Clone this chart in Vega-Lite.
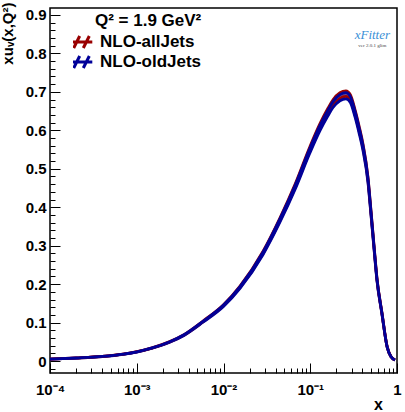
{
  "$schema": "https://vega.github.io/schema/vega-lite/v6.json",
  "width": 347,
  "height": 365,
  "autosize": {"type": "none"},
  "padding": {"left": 50, "top": 8, "right": 8, "bottom": 39},
  "background": "white",
  "config": {"view": {"stroke": "black", "strokeWidth": 1.5}, "font": "Arial"},
  "resolve": {"axis": {"x": "independent", "y": "independent"}},
  "datasets": {
    "pdf": [
      {"x": 0.0001, "band": "NLO-allJets", "lo": 0.00495, "hi": 0.00506},
      {"x": 0.0002, "band": "NLO-allJets", "lo": 0.0079, "hi": 0.0081},
      {"x": 0.0004, "band": "NLO-allJets", "lo": 0.0119, "hi": 0.0121},
      {"x": 0.0007, "band": "NLO-allJets", "lo": 0.0178, "hi": 0.0182},
      {"x": 0.001, "band": "NLO-allJets", "lo": 0.0238, "hi": 0.0243},
      {"x": 0.0015, "band": "NLO-allJets", "lo": 0.0337, "hi": 0.0344},
      {"x": 0.0024, "band": "NLO-allJets", "lo": 0.0495, "hi": 0.0506},
      {"x": 0.0035, "band": "NLO-allJets", "lo": 0.0673, "hi": 0.0687},
      {"x": 0.0058, "band": "NLO-allJets", "lo": 0.102, "hi": 0.1041},
      {"x": 0.01, "band": "NLO-allJets", "lo": 0.1436, "hi": 0.1466},
      {"x": 0.0155, "band": "NLO-allJets", "lo": 0.1911, "hi": 0.1951},
      {"x": 0.0285, "band": "NLO-allJets", "lo": 0.2792, "hi": 0.2851},
      {"x": 0.0447, "band": "NLO-allJets", "lo": 0.3643, "hi": 0.372},
      {"x": 0.0666, "band": "NLO-allJets", "lo": 0.4495, "hi": 0.459},
      {"x": 0.0993, "band": "NLO-allJets", "lo": 0.5465, "hi": 0.5581},
      {"x": 0.129, "band": "NLO-allJets", "lo": 0.6039, "hi": 0.6167},
      {"x": 0.16, "band": "NLO-allJets", "lo": 0.6435, "hi": 0.6572},
      {"x": 0.183, "band": "NLO-allJets", "lo": 0.6653, "hi": 0.6794},
      {"x": 0.22, "band": "NLO-allJets", "lo": 0.6831, "hi": 0.6976},
      {"x": 0.258, "band": "NLO-allJets", "lo": 0.6881, "hi": 0.7026},
      {"x": 0.29, "band": "NLO-allJets", "lo": 0.6782, "hi": 0.6925},
      {"x": 0.328, "band": "NLO-allJets", "lo": 0.6405, "hi": 0.6541},
      {"x": 0.365, "band": "NLO-allJets", "lo": 0.599, "hi": 0.6117},
      {"x": 0.405, "band": "NLO-allJets", "lo": 0.5534, "hi": 0.5651},
      {"x": 0.463, "band": "NLO-allJets", "lo": 0.4683, "hi": 0.4782},
      {"x": 0.5, "band": "NLO-allJets", "lo": 0.3861, "hi": 0.3943},
      {"x": 0.543, "band": "NLO-allJets", "lo": 0.295, "hi": 0.3013},
      {"x": 0.589, "band": "NLO-allJets", "lo": 0.2089, "hi": 0.2133},
      {"x": 0.67, "band": "NLO-allJets", "lo": 0.1238, "hi": 0.1264},
      {"x": 0.77, "band": "NLO-allJets", "lo": 0.0366, "hi": 0.0374},
      {"x": 0.85, "band": "NLO-allJets", "lo": 0.0119, "hi": 0.0121},
      {"x": 0.95, "band": "NLO-allJets", "lo": 0.003, "hi": 0.0031},
      {"x": 0.0001, "band": "NLO-oldJets", "lo": 0.0049, "hi": 0.00502},
      {"x": 0.0002, "band": "NLO-oldJets", "lo": 0.0078, "hi": 0.008},
      {"x": 0.0004, "band": "NLO-oldJets", "lo": 0.0118, "hi": 0.012},
      {"x": 0.0007, "band": "NLO-oldJets", "lo": 0.0177, "hi": 0.0181},
      {"x": 0.001, "band": "NLO-oldJets", "lo": 0.0235, "hi": 0.0241},
      {"x": 0.0015, "band": "NLO-oldJets", "lo": 0.0334, "hi": 0.0341},
      {"x": 0.0024, "band": "NLO-oldJets", "lo": 0.0491, "hi": 0.0502},
      {"x": 0.0035, "band": "NLO-oldJets", "lo": 0.0667, "hi": 0.0683},
      {"x": 0.0058, "band": "NLO-oldJets", "lo": 0.101, "hi": 0.1034},
      {"x": 0.01, "band": "NLO-oldJets", "lo": 0.1422, "hi": 0.1456},
      {"x": 0.0155, "band": "NLO-oldJets", "lo": 0.1893, "hi": 0.1938},
      {"x": 0.0285, "band": "NLO-oldJets", "lo": 0.2766, "hi": 0.2831},
      {"x": 0.0447, "band": "NLO-oldJets", "lo": 0.361, "hi": 0.3695},
      {"x": 0.0666, "band": "NLO-oldJets", "lo": 0.4454, "hi": 0.4558},
      {"x": 0.0993, "band": "NLO-oldJets", "lo": 0.5415, "hi": 0.5542},
      {"x": 0.129, "band": "NLO-oldJets", "lo": 0.5984, "hi": 0.6124},
      {"x": 0.16, "band": "NLO-oldJets", "lo": 0.6377, "hi": 0.6526},
      {"x": 0.183, "band": "NLO-oldJets", "lo": 0.6592, "hi": 0.6747},
      {"x": 0.22, "band": "NLO-oldJets", "lo": 0.6769, "hi": 0.6928},
      {"x": 0.258, "band": "NLO-oldJets", "lo": 0.6818, "hi": 0.6978},
      {"x": 0.29, "band": "NLO-oldJets", "lo": 0.672, "hi": 0.6877},
      {"x": 0.328, "band": "NLO-oldJets", "lo": 0.6347, "hi": 0.6496},
      {"x": 0.365, "band": "NLO-oldJets", "lo": 0.5935, "hi": 0.6074},
      {"x": 0.405, "band": "NLO-oldJets", "lo": 0.5484, "hi": 0.5612},
      {"x": 0.463, "band": "NLO-oldJets", "lo": 0.464, "hi": 0.4749},
      {"x": 0.5, "band": "NLO-oldJets", "lo": 0.3826, "hi": 0.3916},
      {"x": 0.543, "band": "NLO-oldJets", "lo": 0.2923, "hi": 0.2992},
      {"x": 0.589, "band": "NLO-oldJets", "lo": 0.207, "hi": 0.2118},
      {"x": 0.67, "band": "NLO-oldJets", "lo": 0.1226, "hi": 0.1255},
      {"x": 0.77, "band": "NLO-oldJets", "lo": 0.0363, "hi": 0.0371},
      {"x": 0.85, "band": "NLO-oldJets", "lo": 0.0118, "hi": 0.012},
      {"x": 0.95, "band": "NLO-oldJets", "lo": 0.0029, "hi": 0.003}
    ]
  },
  "layer": [
    {
      "data": {"name": "pdf"},
      "mark": {"type": "area", "fillOpacity": 0.45, "interpolate": "monotone"},
      "encoding": {
        "x": {
          "field": "x", "type": "quantitative",
          "scale": {"type": "log", "domain": [0.0001, 1], "nice": false},
          "axis": {
            "orient": "bottom",
            "values": [0.0001, 0.001, 0.01, 0.1, 1],
            "labelExpr": "datum.value == 1 ? '1' : '10' + ['⁰','⁻¹','⁻²','⁻³','⁻⁴'][-round(log(datum.value)/LN10)]",
            "tickSize": -10,
            "tickColor": "black", "tickWidth": 1,
            "domain": false, "grid": false, "labelOverlap": false, "labelFlush": false,
            "labelFont": "Arial", "labelFontWeight": "bold", "labelFontSize": 15, "labelColor": "black",
            "labelPadding": 19,
            "title": "x", "titleFont": "Arial", "titleFontWeight": "bold", "titleFontSize": 16, "titleColor": "black",
            "titleX": 328, "titleY": 31, "titleAlign": "center", "titleBaseline": "middle"
          }
        },
        "y": {
          "field": "lo", "type": "quantitative", "stack": null,
          "scale": {"domain": [-0.031, 0.918], "nice": false, "zero": false},
          "axis": {
            "orient": "left",
            "values": [0, 0.1, 0.2, 0.3, 0.4, 0.5, 0.6, 0.7, 0.8, 0.9],
            "format": ".1~f",
            "tickSize": -10,
            "tickColor": "black", "tickWidth": 1,
            "domain": false, "grid": false, "labelOverlap": false, "labelFlush": false,
            "labelFont": "Arial", "labelFontWeight": "bold", "labelFontSize": 15, "labelColor": "black",
            "labelPadding": 14,
            "title": "xuᵥ(x,Q²)", "titleFont": "Arial", "titleFontWeight": "bold", "titleFontSize": 15, "titleColor": "black",
            "titleAngle": 270, "titleAlign": "right", "titleBaseline": "middle", "titleX": -43, "titleY": -6
          }
        },
        "y2": {"field": "hi"},
        "color": {
          "field": "band", "type": "nominal",
          "scale": {"domain": ["NLO-allJets", "NLO-oldJets"], "range": ["#990000", "#000099"]},
          "legend": {
            "orient": "none", "legendX": 23, "legendY": 24, "title": null, "padding": 0,
            "symbolType": "M-1.8,0L1.8,0M-1.3,1L-0.3,-1M0.3,1L1.3,-1",
            "symbolSize": 144, "symbolStrokeWidth": 3,
            "labelFont": "Arial", "labelFontWeight": "bold", "labelFontSize": 17, "labelColor": "black",
            "labelOffset": 10, "rowPadding": 0, "clipHeight": 20,
            "encode": {"symbols": {"update": {"fill": {"value": "transparent"}, "stroke": {"scale": "color", "field": "value"}, "strokeWidth": {"value": 3}}}}
          }
        }
      }
    },
    {
      "data": {"name": "pdf"},
      "mark": {"type": "line", "strokeWidth": 2.8, "interpolate": "monotone"},
      "encoding": {
        "x": {
          "field": "x", "type": "quantitative",
          "axis": {
            "orient": "bottom",
            "values": [0.0002,0.0003,0.0004,0.0005,0.0006,0.0007,0.0008,0.0009,0.002,0.003,0.004,0.005,0.006,0.007,0.008,0.009,0.02,0.03,0.04,0.05,0.06,0.07,0.08,0.09,0.2,0.3,0.4,0.5,0.6,0.7,0.8,0.9],
            "tickSize": -5, "tickColor": "black", "tickWidth": 1,
            "labels": false, "domain": false, "grid": false, "title": null
          }
        },
        "y": {
          "field": "lo", "type": "quantitative",
          "axis": {
            "orient": "left",
            "values": [-0.02,0.02,0.04,0.06,0.08,0.12,0.14,0.16,0.18,0.22,0.24,0.26,0.28,0.32,0.34,0.36,0.38,0.42,0.44,0.46,0.48,0.52,0.54,0.56,0.58,0.62,0.64,0.66,0.68,0.72,0.74,0.76,0.78,0.82,0.84,0.86,0.88],
            "tickSize": -5, "tickColor": "black", "tickWidth": 1,
            "labels": false, "domain": false, "grid": false, "title": null
          }
        },
        "color": {"field": "band", "type": "nominal", "legend": null}
      }
    },
    {
      "data": {"name": "pdf"},
      "mark": {"type": "line", "strokeWidth": 2.8, "interpolate": "monotone"},
      "encoding": {
        "x": {"field": "x", "type": "quantitative", "axis": null},
        "y": {"field": "hi", "type": "quantitative", "axis": null},
        "color": {"field": "band", "type": "nominal", "legend": null}
      }
    },
    {
      "data": {"values": [{"x": 0.00033, "y": 0.885, "t": "Q² = 1.9 GeV²"}]},
      "mark": {"type": "text", "align": "left", "baseline": "middle", "font": "Arial", "fontWeight": "bold", "fontSize": 17, "color": "black"},
      "encoding": {
        "x": {"field": "x", "type": "quantitative", "axis": null},
        "y": {"field": "y", "type": "quantitative", "axis": null},
        "text": {"field": "t"}
      }
    },
    {
      "data": {"values": [{"x": 0.52, "y": 0.848, "t": "xFitter"}]},
      "mark": {"type": "text", "align": "center", "baseline": "middle", "font": "Liberation Serif", "fontStyle": "italic", "fontSize": 13, "color": "#3a8fd6"},
      "encoding": {
        "x": {"field": "x", "type": "quantitative", "axis": null},
        "y": {"field": "y", "type": "quantitative", "axis": null},
        "text": {"field": "t"}
      }
    },
    {
      "data": {"values": [{"x": 0.52, "y": 0.823, "t": "ver 2.0.1 glim"}]},
      "mark": {"type": "text", "align": "center", "baseline": "middle", "font": "Liberation Serif", "fontSize": 5, "color": "#444444"},
      "encoding": {
        "x": {"field": "x", "type": "quantitative", "axis": null},
        "y": {"field": "y", "type": "quantitative", "axis": null},
        "text": {"field": "t"}
      }
    }
  ]
}
